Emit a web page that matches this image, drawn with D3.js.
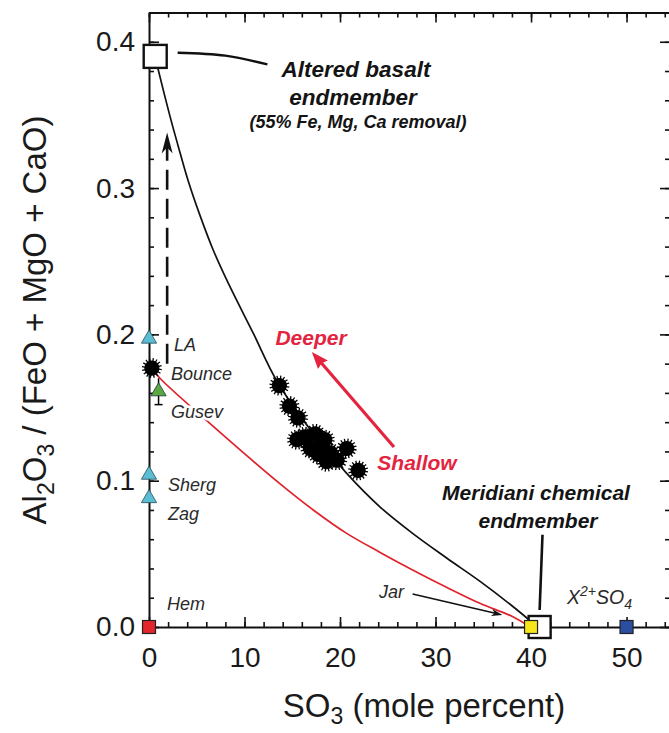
<!DOCTYPE html>
<html><head><meta charset="utf-8">
<script src="https://cdn.jsdelivr.net/npm/d3@7"></script>
<style>
body{margin:0;background:#fff}
svg{display:block}
text{font-family:"Liberation Sans",Arial,Helvetica,sans-serif}
</style>
</head><body>
<svg id="chart" width="669" height="733"></svg>
<script>
// ---------------- data ----------------
const xMajorTicks = [0, 10, 20, 30, 40, 50];
const yMajorTicks = [0, 0.1, 0.2, 0.3, 0.4];

// black mixing curve (altered basalt -> Meridiani chemical endmember)
const mixX = [0.65, 1.0, 2.2, 3.0, 4.1, 5.3, 6.7, 8.3, 10.9, 13.4, 17.0, 20.7, 24.2, 27.6, 31.2, 34.7, 38.1, 40.5];
const mixY = [0.390, 0.380, 0.349, 0.330, 0.305, 0.282, 0.258, 0.235, 0.201, 0.168, 0.134, 0.105, 0.082, 0.064, 0.047, 0.031, 0.014, 0.001];

// red curve (Bounce -> Jar)
const redX = [0.3, 1.15, 6.4, 13.7, 17.2, 20.7, 24.2, 27.6, 31.2, 34.7, 38.1, 39.9];
const redY = [0.177, 0.170, 0.139, 0.098, 0.080, 0.064, 0.051, 0.039, 0.027, 0.016, 0.007, 0.0];

// Meridiani outcrop samples (black points with error bars)
const outcropX = [13.65, 14.7, 15.6, 15.5, 16.3, 17.4, 16.9, 18.1, 17.7, 18.4, 19.0, 18.6, 19.7, 20.7, 21.9];
const outcropY = [0.165, 0.151, 0.143, 0.128, 0.130, 0.132, 0.122, 0.124, 0.118, 0.128, 0.119, 0.113, 0.114, 0.122, 0.107];

// Bounce rock
const bounceX = [0.3];
const bounceY = [0.177];

// Martian meteorites (cyan triangles)
const meteoriteNames = ["LA", "Sherg", "Zag"];
const meteoriteX = [0, 0, 0];
const meteoriteY = [0.197, 0.104, 0.088];

// Gusev (green triangle)
const gusevX = [1.0];
const gusevY = [0.161];

// small filled squares: Hem, Jar, X2+SO4
const mineralNames = ["Hem", "Jar", "X2+SO4"];
const mineralX = [0, 40, 50];
const mineralY = [0, 0, 0];
const mineralColors = ["#e3262c", "#f6e61a", "#2c4ea2"];

// endmembers (open squares)
const endmemberNames = ["Altered basalt", "Meridiani chemical"];
const endmemberX = [0.65, 40.9];
const endmemberY = [0.390, 0.0];

// ---------------- chart ----------------
const svg = d3.select("#chart");
const x = d3.scaleLinear().domain([0, 54.55]).range([149, 670]);
const y = d3.scaleLinear().domain([0, 0.42]).range([627, 12.5]);

const axisG = svg.append("g");
function styleAxis(g, showDomain) {
  g.selectAll(".domain").attr("stroke", "#111").attr("stroke-width", showDomain ? 2 : 0);
  g.selectAll(".tick line").attr("stroke", "#111").attr("stroke-width", 1.6);
  g.selectAll(".tick text").attr("font-size", 28).attr("fill", "#1a1a1a")
    .attr("font-family", "'Liberation Sans',Arial,sans-serif");
}
const xMinor = d3.range(0, 55, 2);
const yMinor = d3.range(0, 0.421, 0.02);

// bottom
axisG.append("g").attr("transform", "translate(0,627)")
  .call(d3.axisBottom(x).tickValues(xMinor).tickSize(-5).tickSizeOuter(0).tickFormat(""))
  .call(g => styleAxis(g, true));
axisG.append("g").attr("transform", "translate(0,627)")
  .call(d3.axisBottom(x).tickValues(xMajorTicks).tickSize(-10).tickSizeOuter(0).tickPadding(20).tickFormat(d3.format("d")))
  .call(g => styleAxis(g, false));
// top
axisG.append("g").attr("transform", "translate(0,12.5)")
  .call(d3.axisTop(x).tickValues(xMinor).tickSize(-5).tickSizeOuter(0).tickFormat(""))
  .call(g => styleAxis(g, true));
axisG.append("g").attr("transform", "translate(0,12.5)")
  .call(d3.axisTop(x).tickValues(xMajorTicks).tickSize(-10).tickSizeOuter(0).tickFormat(""))
  .call(g => styleAxis(g, false));
// left
axisG.append("g").attr("transform", "translate(149,0)")
  .call(d3.axisLeft(y).tickValues(yMinor).tickSize(-5).tickSizeOuter(0).tickFormat(""))
  .call(g => styleAxis(g, true));
axisG.append("g").attr("transform", "translate(149,0)")
  .call(d3.axisLeft(y).tickValues(yMajorTicks).tickSize(-10).tickSizeOuter(0).tickPadding(14).tickFormat(d3.format(".1f")))
  .call(g => styleAxis(g, false));
// right
axisG.append("g").attr("transform", "translate(670,0)")
  .call(d3.axisRight(y).tickValues(yMinor).tickSize(-5).tickSizeOuter(0).tickFormat(""))
  .call(g => styleAxis(g, true));
axisG.append("g").attr("transform", "translate(670,0)")
  .call(d3.axisRight(y).tickValues(yMajorTicks).tickSize(-10).tickSizeOuter(0).tickFormat(""))
  .call(g => styleAxis(g, false));

// axis titles
const xt = svg.append("text").attr("x", 424).attr("y", 717).attr("text-anchor", "middle")
  .attr("font-size", 33).attr("fill", "#1a1a1a");
xt.append("tspan").text("SO");
xt.append("tspan").attr("font-size", 23).attr("dy", 7).text("3");
xt.append("tspan").attr("dy", -7).text(" (mole percent)");

const yt = svg.append("text").attr("transform", "translate(46,320) rotate(-90)")
  .attr("text-anchor", "middle").attr("font-size", 33).attr("fill", "#1a1a1a");
yt.append("tspan").text("Al");
yt.append("tspan").attr("font-size", 23).attr("dy", 8).text("2");
yt.append("tspan").attr("dy", -8).text("O");
yt.append("tspan").attr("font-size", 23).attr("dy", 8).text("3");
yt.append("tspan").attr("dy", -8).text(" / (FeO + MgO + CaO)");

// helper: arrowhead path (pixel space) with tip at (x2,y2)
function arrowHead(x1, y1, x2, y2, len, half, notch) {
  const a = Math.atan2(y2 - y1, x2 - x1);
  const c = Math.cos(a), s = Math.sin(a);
  const bx = x2 - len * c, by = y2 - len * s;
  const nx = x2 - (len - notch) * c, ny = y2 - (len - notch) * s;
  return `M${x2},${y2}L${bx - half * s},${by + half * c}L${nx},${ny}L${bx + half * s},${by - half * c}Z`;
}

const line = d3.line().x(d => x(d[0])).y(d => y(d[1])).curve(d3.curveCatmullRom.alpha(0.5));

// red curve
svg.append("path").datum(redX.map((v, i) => [v, redY[i]]))
  .attr("d", line).attr("fill", "none").attr("stroke", "#e0222c").attr("stroke-width", 1.7);

// black mixing curve
svg.append("path").datum(mixX.map((v, i) => [v, mixY[i]]))
  .attr("d", line).attr("fill", "none").attr("stroke", "#111").attr("stroke-width", 1.7);

// dashed arrow (vertical)
const dashX = 1.9, dashY0 = 0.18, dashY1 = 0.338;
svg.append("line").attr("x1", x(dashX)).attr("x2", x(dashX))
  .attr("y1", y(dashY0)).attr("y2", y(dashY1) + 14)
  .attr("stroke", "#111").attr("stroke-width", 2.6).attr("stroke-dasharray", "20,9");
svg.append("path").attr("d", arrowHead(x(dashX), y(dashY0), x(dashX), y(dashY1), 21, 5.5, 6)).attr("fill", "#111");

// red Deeper/Shallow arrow
const dA = [25.65, 0.123], dB = [17.05, 0.188];
{
  const ax = x(dA[0]), ay = y(dA[1]), bx = x(dB[0]), by = y(dB[1]);
  const L = Math.hypot(bx - ax, by - ay);
  svg.append("line").attr("x1", ax).attr("y1", ay)
    .attr("x2", bx - (bx - ax) / L * 12).attr("y2", by - (by - ay) / L * 12)
    .attr("stroke", "#e4243f").attr("stroke-width", 3.2);
  svg.append("path").attr("d", arrowHead(ax, ay, bx, by, 17, 6.5, 2)).attr("fill", "#e4243f");
}

// Jar arrow
const jA = [27.6, 0.0226], jB = [37.0, 0.0082];
svg.append("line").attr("x1", x(jA[0])).attr("y1", y(jA[1])).attr("x2", x(jB[0]) - 6).attr("y2", y(jB[1]) - 1.5)
  .attr("stroke", "#111").attr("stroke-width", 1.5);
svg.append("path").attr("d", arrowHead(x(jA[0]), y(jA[1]), x(jB[0]), y(jB[1]), 11, 3.5, 3)).attr("fill", "#111");

// leader lines for endmembers
const leaderA = [[3.0, 0.3925], [8.0, 0.3905], [12.4, 0.3845]];
svg.append("path").datum(leaderA).attr("d", line).attr("fill", "none").attr("stroke", "#111").attr("stroke-width", 2.4);
const leaderB = [[41.2, 0.063], [40.9, 0.0116]];
svg.append("path").datum(leaderB).attr("d", d3.line().x(d => x(d[0])).y(d => y(d[1])))
  .attr("fill", "none").attr("stroke", "#111").attr("stroke-width", 2.6);

// outcrop points (filled circles with error-bar spikes)
function blob(g, px, py) {
  const gg = g.append("g").attr("transform", `translate(${px},${py})`);
  for (let k = 0; k < 16; k++) {
    const a = k * Math.PI / 8 + 0.15;
    gg.append("line").attr("x1", 0).attr("y1", 0)
      .attr("x2", 10 * Math.cos(a)).attr("y2", 10 * Math.sin(a))
      .attr("stroke", "#000").attr("stroke-width", 1.3);
  }
  gg.append("circle").attr("r", 7.6).attr("fill", "#000");
}
const blobsG = svg.append("g");
outcropX.forEach((v, i) => blob(blobsG, x(v), y(outcropY[i])));
bounceX.forEach((v, i) => blob(blobsG, x(v), y(bounceY[i])));

// Gusev with error bars
const gG = svg.append("g");
gusevX.forEach((v, i) => {
  const px = x(v), py = y(gusevY[i]);
  gG.append("line").attr("x1", px).attr("x2", px).attr("y1", y(gusevY[i] - 0.009)).attr("y2", y(gusevY[i] + 0.009)).attr("stroke", "#000").attr("stroke-width", 1.5);
  gG.append("line").attr("x1", x(v - 0.7)).attr("x2", x(v + 0.7)).attr("y1", py + 3).attr("y2", py + 3).attr("stroke", "#000").attr("stroke-width", 1.5);
  gG.append("line").attr("x1", px - 4).attr("x2", px + 4).attr("y1", y(gusevY[i] - 0.009)).attr("y2", y(gusevY[i] - 0.009)).attr("stroke", "#000").attr("stroke-width", 1.5);
  gG.append("path").attr("transform", `translate(${px},${py})`)
    .attr("d", d3.symbol(d3.symbolTriangle, 100)()).attr("fill", "#5aa840").attr("stroke", "#234").attr("stroke-width", 0.8);
});

// cyan triangles
svg.append("g").selectAll("path").data(meteoriteX).join("path")
  .attr("transform", (d, i) => `translate(${x(d)},${y(meteoriteY[i])})`)
  .attr("d", d3.symbol(d3.symbolTriangle, 100)())
  .attr("fill", "#5bbdd3").attr("stroke", "#2a4a55").attr("stroke-width", 0.8);

// endmember open squares
svg.append("g").selectAll("rect").data(endmemberX).join("rect")
  .attr("x", (d, i) => x(d) - (i === 0 ? 11.5 : 11))
  .attr("y", (d, i) => y(endmemberY[i]) - (i === 0 ? 11.5 : 11))
  .attr("width", (d, i) => i === 0 ? 23 : 22).attr("height", (d, i) => i === 0 ? 23 : 22)
  .attr("fill", "#fff").attr("stroke", "#111").attr("stroke-width", 2.4);

// mineral squares
svg.append("g").selectAll("rect").data(mineralX).join("rect")
  .attr("x", d => x(d) - 6.5).attr("y", (d, i) => y(mineralY[i]) - 6.5)
  .attr("width", 13).attr("height", 13)
  .attr("fill", (d, i) => mineralColors[i]).attr("stroke", "#222").attr("stroke-width", 1.2);

// ---------------- labels ----------------
const lab = (tx, ty, str, size) => svg.append("text").attr("x", tx).attr("y", ty)
  .attr("font-size", size || 18).attr("font-style", "italic").attr("fill", "#2a2a2a").text(str);
lab(174, 351, meteoriteNames[0]);
lab(171, 380, "Bounce");
lab(171, 418, "Gusev").attr("stroke", "#fff").attr("stroke-width", 5).attr("paint-order", "stroke");
lab(168, 491, meteoriteNames[1]);
lab(168, 520, meteoriteNames[2]);
lab(167, 610, mineralNames[0]);
lab(379, 598, mineralNames[1]);
const xs = svg.append("text").attr("x", 567).attr("y", 604).attr("font-size", 19.5)
  .attr("font-style", "italic").attr("fill", "#2a2a2a");
xs.append("tspan").text("X");
xs.append("tspan").attr("font-size", 14).attr("dy", -8).text("2+");
xs.append("tspan").attr("dy", 8).text("SO");
xs.append("tspan").attr("font-size", 14).attr("dy", 5).text("4");

const bold = (tx, ty, str, size, fill) => svg.append("text").attr("x", tx).attr("y", ty)
  .attr("text-anchor", "middle").attr("font-size", size).attr("font-weight", "bold")
  .attr("font-style", "italic").attr("fill", fill || "#141414").text(str);
bold(356, 77, endmemberNames[0], 22.5);
bold(353, 105, "endmember", 22.5);
bold(358, 128, "(55% Fe, Mg, Ca removal)", 18);
bold(536, 500, endmemberNames[1], 21);
bold(538, 528, "endmember", 21);
bold(311, 345, "Deeper", 21, "#e4243f");
bold(417, 470, "Shallow", 21, "#e4243f");
</script>
</body></html>
